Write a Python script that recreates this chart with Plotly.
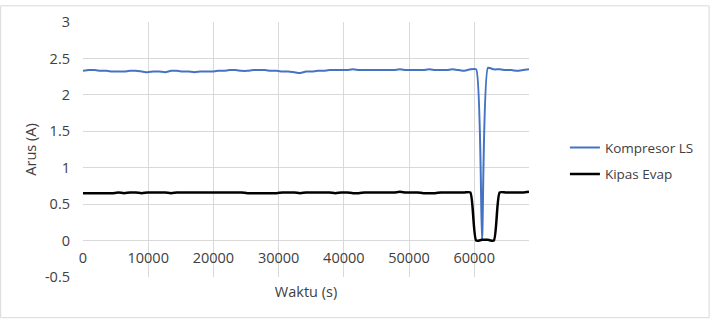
import plotly.graph_objects as go

# ---- data ----
time_s = [i * 900 for i in range(77)]

kompresor_ls = [
    2.33, 2.34, 2.34, 2.33, 2.33, 2.32, 2.32, 2.32, 2.33, 2.33,
    2.32, 2.31, 2.32, 2.32, 2.31, 2.33, 2.33, 2.32, 2.32, 2.31,
    2.32, 2.32, 2.32, 2.33, 2.33, 2.34, 2.34, 2.33, 2.33, 2.34,
    2.34, 2.34, 2.33, 2.33, 2.32, 2.32, 2.31, 2.30, 2.32, 2.32,
    2.33, 2.33, 2.34, 2.34, 2.34, 2.34, 2.35, 2.34, 2.34, 2.34,
    2.34, 2.34, 2.34, 2.34, 2.35, 2.34, 2.34, 2.34, 2.34, 2.35,
    2.34, 2.34, 2.34, 2.35, 2.34, 2.33, 2.35, 2.35, 0.01, 2.37,
    2.35, 2.35, 2.34, 2.34, 2.33, 2.34, 2.35,
]

kipas_evap = [
    0.65, 0.65, 0.65, 0.65, 0.65, 0.65, 0.66, 0.65, 0.66, 0.66,
    0.65, 0.66, 0.66, 0.66, 0.66, 0.65, 0.66, 0.66, 0.66, 0.66,
    0.66, 0.66, 0.66, 0.66, 0.66, 0.66, 0.66, 0.66, 0.65, 0.65,
    0.65, 0.65, 0.65, 0.65, 0.66, 0.66, 0.66, 0.65, 0.66, 0.66,
    0.66, 0.66, 0.66, 0.65, 0.66, 0.66, 0.65, 0.65, 0.66, 0.66,
    0.66, 0.66, 0.66, 0.66, 0.67, 0.66, 0.66, 0.66, 0.65, 0.65,
    0.65, 0.66, 0.66, 0.66, 0.66, 0.66, 0.66, 0.00, 0.01, 0.01,
    0.00, 0.66, 0.66, 0.66, 0.66, 0.66, 0.67,
]

x_tick_vals = [0, 10000, 20000, 30000, 40000, 50000, 60000]
x_tick_text = ["0", "10000", "20000", "30000", "40000", "50000", "60000"]
y_tick_vals = [-0.5, 0, 0.5, 1, 1.5, 2, 2.5, 3]
y_tick_text = ["-0.5", "0", "0.5", "1", "1.5", "2", "2.5", "3"]

FONT = "Open Sans"
FS = 14.5
LFS = 13.5
TXT = "#404040"
GRID = "#d9d9d9"

fig = go.Figure()
fig.add_trace(go.Scatter(
    x=time_s, y=kompresor_ls, mode="lines", name="Kompresor LS",
    legendgroup="a",
    line=dict(color="#4472C4", width=2, shape="spline", smoothing=0.5),
))
fig.add_trace(go.Scatter(
    x=time_s, y=kipas_evap, mode="lines", name="Kipas Evap",
    legendgroup="b",
    line=dict(color="#000000", width=2.5, shape="spline", smoothing=0.6),
))

L, R, T, B = 83, 181, 17, 42
W, H = 711, 319
pw, ph = W - L - R, H - T - B

fig.update_layout(
    width=W, height=H,
    margin=dict(l=L, r=R, t=T, b=B),
    paper_bgcolor="white", plot_bgcolor="white",
    font=dict(family=FONT, size=FS, color=TXT),
    showlegend=True,
    legend=dict(
        x=(566 - L) / pw, xanchor="left",
        y=(H - B - 159) / ph, yanchor="middle",
        traceorder="grouped", tracegroupgap=6,
        font=dict(family=FONT, size=LFS, color=TXT),
        bgcolor="rgba(0,0,0,0)",
        borderwidth=0,
    ),
    xaxis=dict(
        range=[0, 68400],
        anchor="free", position=0.5 / 3.5,
        tickvals=x_tick_vals, ticktext=x_tick_text,
        showgrid=True, gridcolor=GRID, gridwidth=1,
        zeroline=False, showline=False, ticks="",
        ticklabelstandoff=7,
        title=dict(text="Waktu (s)", standoff=20, font=dict(size=FS, color=TXT)),
    ),
    yaxis=dict(
        range=[-0.5, 3],
        tickvals=y_tick_vals, ticktext=y_tick_text,
        showgrid=True, gridcolor=GRID, gridwidth=1,
        zeroline=False, showline=False, ticks="",
        ticklabelstandoff=12,
        title=dict(text="Arus (A)", standoff=4, font=dict(size=FS, color=TXT)),
    ),
    shapes=[dict(
        type="rect", xref="paper", yref="paper",
        x0=(0.5 - L) / pw, x1=(W - 0.5 - L) / pw,
        y0=(H - B - (H - 0.5)) / ph, y1=(H - B - 0.5) / ph,
        line=dict(color=GRID, width=1), fillcolor="rgba(0,0,0,0)",
        layer="below",
    )],
)

fig.write_html("out.html")
